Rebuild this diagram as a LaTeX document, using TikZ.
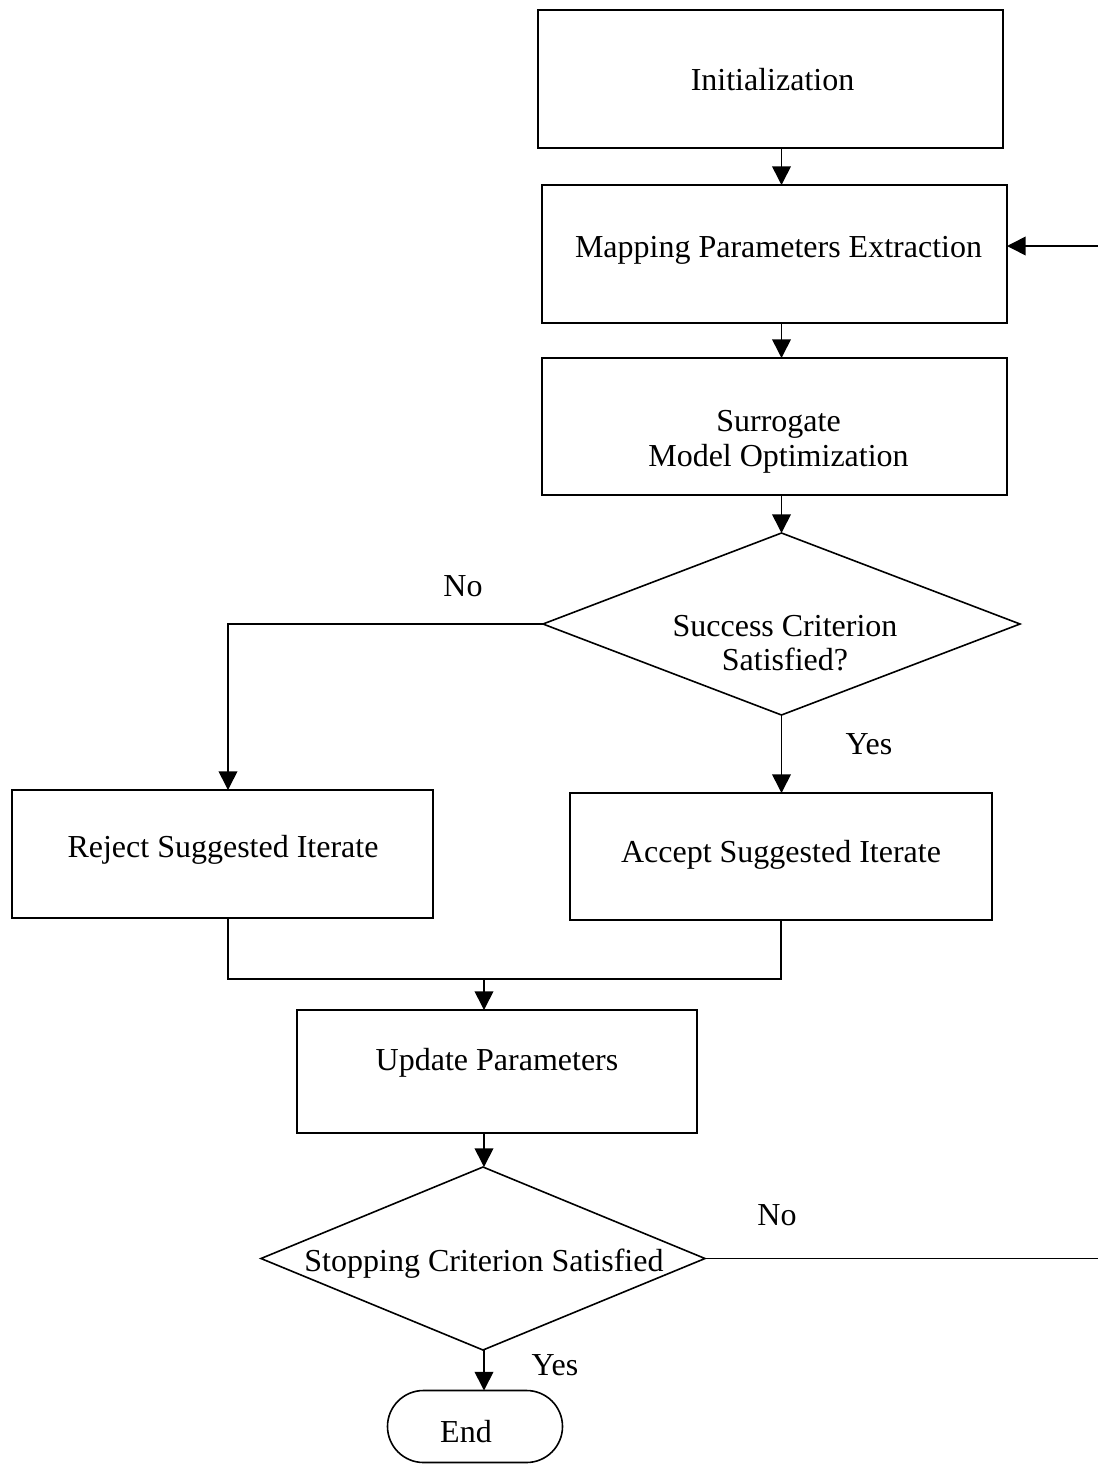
\documentclass[tikz,border=0pt]{standalone}
\usepackage{fontspec}
\setmainfont{Liberation Serif}
\usetikzlibrary{arrows.meta,shapes.geometric}
\begin{document}
\begin{tikzpicture}[x=0.75pt,y=-0.75pt,
  font=\fontsize{24}{26}\selectfont,
  line width=1.2pt,
  stepbox/.style={draw,rectangle,inner sep=0pt,outer sep=0pt},
  decision/.style={draw,diamond,inner sep=0pt,outer sep=0pt},
  terminal/.style={draw,rectangle,rounded corners=27pt,inner sep=0pt,outer sep=0pt},
  lbl/.style={inner sep=0pt,align=center},
  arr/.style={-{Triangle[length=14pt,width=14pt]}}]
\useasboundingbox (0,0) rectangle (1097,1464);

% process boxes
\node[stepbox,minimum width=348.75pt,minimum height=103.5pt] (init) at (770.5,79) {};
\node[lbl] (initt) at (772.5,80) {Initialization};
\node[stepbox,minimum width=348.75pt,minimum height=103.5pt] (map) at (774.5,254) {};
\node[lbl] (mapt) at (778.5,250) {Mapping Parameters Extraction};
\node[stepbox,minimum width=348.75pt,minimum height=102.75pt] (surr) at (774.5,426.5) {};
\node[lbl] (surrt) at (778.5,441.5) {Surrogate\\Model Optimization};

% first decision
\node[decision,minimum width=357.75pt,minimum height=136.5pt] (d1) at (781.5,624) {};
\node[lbl] (d1t) at (785,643) {Success Criterion\\Satisfied?};

\node[stepbox,minimum width=315.75pt,minimum height=96pt] (rej) at (222.5,854) {};
\node[lbl] (rejt) at (223,850) {Reject Suggested Iterate};
\node[stepbox,minimum width=316.5pt,minimum height=95.25pt] (acc) at (781,856.5) {};
\node[lbl] (acct) at (781,854.5) {Accept Suggested Iterate};

\node[stepbox,minimum width=300pt,minimum height=92.25pt] (upd) at (497,1071.5) {};
\node[lbl] (updt) at (497,1062.5) {Update Parameters};

% second decision
\node[decision,minimum width=333pt,minimum height=137.25pt] (d2) at (483,1258.5) {};
\node[lbl] (d2t) at (484,1264) {Stopping Criterion Satisfied};

\node[terminal,minimum width=131.25pt,minimum height=54pt] (end) at (475,1426.5) {};
\node[lbl] (endt) at (466,1432) {End};

% branch labels
\node[lbl] (no1) at (463,586) {No};
\node[lbl] (yes1) at (869,744) {Yes};
\node[lbl] (no2) at (777,1215) {No};
\node[lbl] (yes2) at (555,1365) {Yes};

% routing points
\coordinate (rx) at (228,624);
\coordinate (merge) at (484,979);
\coordinate (fb) at (1103,246);

% main column
\draw[arr] (init.south -| d1.north) -- (map.north -| d1.north);
\draw[arr] (map.south -| d1.north) -- (surr.north -| d1.north);
\draw[arr] (surr.south -| d1.north) -- (d1.north);
\draw[arr] (d1.south) -- (acc.north -| d1.south);

% reject branch
\draw[arr] (d1.west) -- (rx) -- (rej.north -| rx);

% join of both branches
\draw (rej.south -| rx) -- (rx |- merge) -- (merge -| acc.south) -- (acc.south);
\draw[arr] (merge) -- (upd.north -| merge);
\draw[arr] (upd.south -| merge) -- (d2.north -| merge);
\draw[arr] (d2.south -| merge) -- (end.north -| merge);

% loop back
\draw[arr] (d2.east) -- (fb |- d2.east) -- (fb) -- (fb -| map.east);
\end{tikzpicture}
\end{document}
